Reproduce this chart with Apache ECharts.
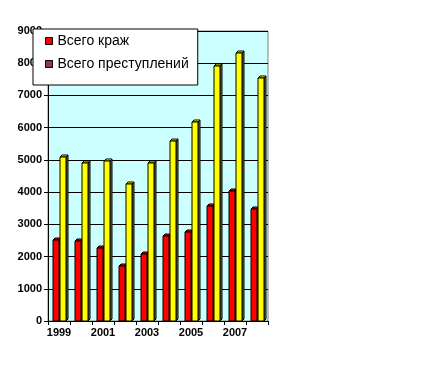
<!DOCTYPE html>
<html><head><meta charset="utf-8">
<script src="https://cdn.jsdelivr.net/npm/echarts@6/dist/echarts.min.js"></script>
<style>html,body{margin:0;padding:0;background:#fff}#c{width:422px;height:368px}</style>
</head><body><div id="c"></div>
<script>
var years = ['1999','2000','2001','2002','2003','2004','2005','2006','2007','2008'];
var thefts = [2510, 2490, 2260, 1700, 2080, 2650, 2760, 3570, 4030, 3470];
var crimes = [5100, 4900, 4960, 4250, 4890, 5590, 6180, 7900, 8310, 7540];
var yTicks = [0, 1000, 9000];
var seriesNames = ['Всего краж', 'Всего преступлений'];

function bar3d(offset, front, side) {
  return function (params, api) {
    var idx = api.value(0), val = api.value(1);
    var top = api.coord([idx, val]);
    var bot = api.coord([idx, 0]);
    var w = 6, d = 2;
    var x0 = Math.round(top[0] + offset - w / 2), yT = Math.round(top[1]), yB = Math.round(bot[1]);
    var st = {stroke:'#000', lineWidth:1};
    return {type:'group', children:[
      {type:'polygon', shape:{points:[[x0+w,yT],[x0+w+d,yT-d],[x0+w+d,yB-d],[x0+w,yB]]}, style:Object.assign({fill:side}, st)},
      {type:'polygon', shape:{points:[[x0,yT],[x0+d,yT-d],[x0+w+d,yT-d],[x0+w,yT]]}, style:Object.assign({fill:front}, st)},
      {type:'rect', shape:{x:x0, y:yT, width:w, height:yB-yT}, style:Object.assign({fill:front}, st)}
    ]};
  };
}

var chart = echarts.init(document.getElementById('c'));
var lab = {fontFamily:'Liberation Sans, Arial', fontWeight:'bold', fontSize:11, color:'#000'};
chart.setOption({
  animation:false,
  backgroundColor:'#fff',
  grid:{left:48, right:154, top:31, bottom:47, show:true, backgroundColor:'#CCFFFF', borderColor:'#808080', borderWidth:1},
  legend:{
    orient:'vertical', left:33, top:29,
    padding:[5,9,14,12], itemGap:9,
    backgroundColor:'#fff', borderColor:'#000', borderWidth:1,
    itemWidth:7, itemHeight:7, icon:'rect',
    textStyle:{fontFamily:'Liberation Sans, Arial', fontSize:14, color:'#000'},
    data:[
      {name:seriesNames[0], itemStyle:{color:'#FF0000', borderColor:'#000', borderWidth:1}},
      {name:seriesNames[1], itemStyle:{color:'#993366', borderColor:'#000', borderWidth:1}}
    ],
    z:10
  },
  xAxis:{
    type:'category', data:years,
    axisLine:{lineStyle:{color:'#000', width:1}},
    axisTick:{show:true, interval:0, length:4, lineStyle:{color:'#000'}},
    axisLabel:Object.assign({interval:1, margin:6}, lab)
  },
  yAxis:{
    type:'value', min:yTicks[0], max:yTicks[2], interval:yTicks[1],
    axisLine:{show:true, lineStyle:{color:'#000'}},
    axisTick:{show:true, length:4, lineStyle:{color:'#000'}},
    splitLine:{lineStyle:{color:'#000', width:1}},
    axisLabel:Object.assign({margin:6, formatter:function(v){return String(v);}}, lab)
  },
  series:[
    {name:seriesNames[0], type:'custom', data:thefts.map(function(v,i){return [i,v];}),
     renderItem:bar3d(-3.5, '#FF0000', '#800000'), itemStyle:{color:'#FF0000'}, z:3},
    {name:seriesNames[1], type:'custom', data:crimes.map(function(v,i){return [i,v];}),
     renderItem:bar3d(3.5, '#FFFF00', '#808000'), itemStyle:{color:'#FFFF00'}, z:3}
  ]
});
</script></body></html>
